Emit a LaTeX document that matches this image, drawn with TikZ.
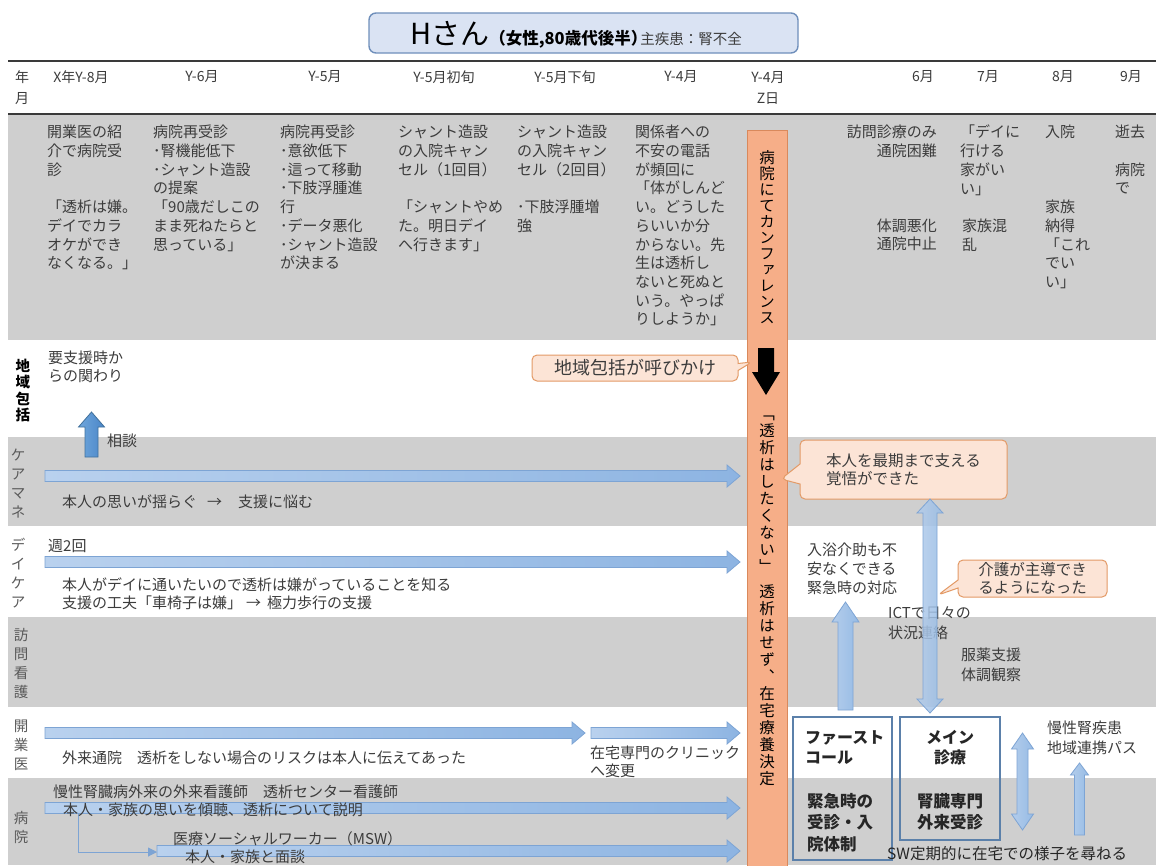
\documentclass[tikz,border=0pt]{standalone}
\usepackage{fontspec}
\setmainfont{Noto Sans CJK JP}
\newfontfamily\vfont{Noto Sans CJK JP}[RawFeature=+vert]
\usetikzlibrary{shapes.callouts,arrows.meta}
\definecolor{bandgray}{HTML}{CFCFCF}
\definecolor{tgray}{HTML}{3C3C3C}
\definecolor{lgray}{HTML}{5A5A5A}
\definecolor{hdrline}{HTML}{3A3A3A}
\definecolor{titlefill}{HTML}{DAE3F3}
\definecolor{titledraw}{HTML}{6F8FBB}
\definecolor{barL}{HTML}{B9D1EE}
\definecolor{barR}{HTML}{8DB4E2}
\definecolor{barD}{HTML}{7DA4D4}
\definecolor{vbL}{HTML}{B4CDEB}
\definecolor{vbR}{HTML}{96BBE5}
\definecolor{upL}{HTML}{6FA6DC}
\definecolor{upR}{HTML}{4A86C8}
\definecolor{upD}{HTML}{41719C}
\definecolor{orangefill}{HTML}{F6AE88}
\definecolor{orangedraw}{HTML}{D9895C}
\definecolor{callfill}{HTML}{FCE4D6}
\definecolor{calldraw}{HTML}{E39A66}
\definecolor{boxdraw}{HTML}{5B80AA}
\newcommand\fA{\fontsize{15}{18.7}\selectfont}
\newcommand\harr[4][]{\path[barst,#1] (#2,#4-5.5) -- (#3-13,#4-5.5) -- (#3-13,#4-11) -- (#3,#4) -- (#3-13,#4+11) -- (#3-13,#4+5.5) -- (#2,#4+5.5) -- cycle;}
\newcommand\uarr[7][]{\path[vbarst,#1] (#2-#5,#3) -- (#2-#5,#4+#7) -- (#2-#6,#4+#7) -- (#2,#4) -- (#2+#6,#4+#7) -- (#2+#5,#4+#7) -- (#2+#5,#3) -- cycle;}
\newcommand\darr[6]{\path[vbarst] (#1-#4,#2+#6) -- (#1-#5,#2+#6) -- (#1,#2) -- (#1+#5,#2+#6) -- (#1+#4,#2+#6) -- (#1+#4,#3-#6) -- (#1+#5,#3-#6) -- (#1,#3) -- (#1-#5,#3-#6) -- (#1-#4,#3-#6) -- cycle;}
\begin{document}
\begin{tikzpicture}[x=1pt,y=-1pt,
  barst/.style={draw=barD, line width=0.8pt, left color=barL, right color=barR},
  vbarst/.style={draw=barD, line width=0.8pt, left color=vbL, right color=vbR},
  upst/.style={draw=upD, left color=upL, right color=upR},
  tx/.style={anchor=north west, align=left, inner sep=0pt, font=\fA, text=tgray},
  lab/.style={anchor=north, align=center, inner sep=0pt, font=\fontsize{14.5}{19}\selectfont, text=lgray},
  hd/.style={inner sep=0pt, font=\fontsize{14}{21}\selectfont, text=tgray, align=center},
  cbox/.style={rectangle callout, draw=calldraw, fill=callfill, line width=1pt, rounded corners=5pt, inner sep=0pt, text=tgray, align=left},
  fbx/.style={draw=boxdraw, line width=1.6pt, inner sep=0pt},
  bt/.style={tx, text=black!85, font=\bfseries\fontsize{16}{20}\selectfont},
  vtx/.style={anchor=north, align=center, inner sep=0pt, text=black}]
\useasboundingbox (0,0) rectangle (1156,865);
\fill[white] (0,0) rectangle (1156,865);
% text partly covered by the hospital band
\node[tx, font=\fontsize{15}{18}\selectfont] (clinic) at (590,746) {在宅専門のクリニック\\へ変更};
% bands
\fill[bandgray] (8,115) rectangle (1156,340);
\fill[bandgray] (8,437) rectangle (1156,526);
\fill[bandgray] (8,617) rectangle (1156,707);
\fill[bandgray] (8,778) rectangle (1156,865);
% header lines
\draw[hdrline, line width=2.6pt] (8,61) -- (1156,61);
\draw[hdrline, line width=2pt] (8,113.5) -- (1156,113.5);
% title
\node[draw=titledraw, fill=titlefill, line width=1.4pt, rounded corners=7pt, minimum width=429, minimum height=40, inner sep=0pt] (title) at (583.5,33) {};
\node[inner sep=0pt, anchor=base] (titletext) at (576,44.5) {{\fontsize{29}{29}\selectfont Hさん}{\fontsize{16.5}{16.5}\selectfont\bfseries （女性,80歳代後半）}\hspace{-7pt}{\fontsize{14.5}{14.5}\selectfont\color{tgray}主疾患：腎不全}};
% header row
\node[hd] (hnen) at (22,88) {年\\月};
\node[hd] (h1) at (81,77) {X年Y-8月};
\node[hd] (h2) at (202,77) {Y-6月};
\node[hd] (h3) at (325,77) {Y-5月};
\node[hd] (h4) at (444,77) {Y-5月初旬};
\node[hd] (h5) at (565,77) {Y-5月下旬};
\node[hd] (h6) at (681,77) {Y-4月};
\node[hd] (h7) at (768,88) {Y-4月\\Z日};
\node[hd] (h8) at (923,77) {6月};
\node[hd] (h9) at (988,77) {7月};
\node[hd] (h10) at (1063,77) {8月};
\node[hd] (h11) at (1131,77) {9月};
% gray band columns
\node[tx] (g1) at (47,125) {開業医の紹\\介で病院受\\診\\[18.7pt]「透析は嫌。\\デイでカラ\\オケができ\\なくなる。」};
\node[tx] (g2) at (153,125) {病院再受診\\･腎機能低下\\･シャント造設\\の提案\\「90歳だしこの\\まま死ねたらと\\思っている」};
\node[tx] (g3) at (280,125) {病院再受診\\･意欲低下\\･這って移動\\･下肢浮腫進\\行\\･データ悪化\\･シャント造設\\が決まる};
\node[tx] (g4) at (398,125) {シャント造設\\の入院キャン\\セル（1回目）\\[18.7pt]「シャントやめ\\た。明日デイ\\へ行きます」};
\node[tx] (g5) at (517,125) {シャント造設\\の入院キャン\\セル（2回目）\\[18.7pt]･下肢浮腫増\\強};
\node[tx] (g6) at (635,125) {関係者への\\不安の電話\\が頻回に\\「体がしんど\\い。どうした\\らいいか分\\からない。先\\生は透析し\\ないと死ぬと\\いう。やっぱ\\りしようか」};
\node[tx, anchor=north east, align=right] (r1) at (937,125) {訪問診療のみ\\通院困難};
\node[tx, anchor=north east, align=right] (r2) at (937,218.5) {体調悪化\\通院中止};
\node[tx] (r3) at (960,125) {「デイに\\行ける\\家がい\\い」};
\node[tx] (r4) at (962,218.5) {家族混\\乱};
\node[tx] (r5) at (1045,125) {入院};
\node[tx] (r6) at (1045,199.8) {家族\\納得\\「これ\\でい\\い」};
\node[tx] (r7) at (1115,125) {逝去};
\node[tx] (r8) at (1115,162.4) {病院\\で};
% row labels
\node[lab, text=black, font=\bfseries\fontsize{14.5}{16.3}\selectfont] (l1) at (23,359) {\vphantom{国}地\\域\\包\\括};
\node[lab] (l2) at (18,449) {\vphantom{国}ケ\\ア\\マ\\ネ};
\node[lab] (l3) at (18,538) {\vphantom{国}デ\\イ\\ケ\\ア};
\node[lab] (l4) at (21,628) {\vphantom{国}訪\\問\\看\\護};
\node[lab] (l5) at (21,720) {\vphantom{国}開\\業\\医};
\node[lab] (l6) at (21,811) {\vphantom{国}病\\院};
% orange bar
\node[draw=orangedraw, fill=orangefill, line width=0.8pt, minimum width=40, minimum height=740, inner sep=0pt] (obar) at (767,500) {};
\node[vtx, font=\vfont\fontsize{15.5}{16}\selectfont] (vt1) at (767,150) {\vphantom{国}病\\院\\に\\て\\カ\\ン\\フ\\ァ\\レ\\ン\\ス};
\node[vtx, font=\vfont\fontsize{15.5}{17}\selectfont] (vt2) at (767,407) {\vphantom{国}﹁\\透\\析\\は\\し\\た\\く\\な\\い\\﹂\\[8pt]透\\析\\は\\せ\\ず\\︑\\在\\宅\\療\\養\\決\\定};
\fill[black] (758,348) -- (774,348) -- (774,372) -- (780,372) -- (766,395) -- (752,372) -- (758,372) -- cycle;
% rows
\node[tx, font=\fontsize{15}{17.5}\selectfont] (t1) at (48,351) {要支援時か\\らの関わり};
\node[tx] (t2) at (107,434) {相談};
\uarr[upst]{91.5}{457}{412}{6.5}{13}{15}
\harr{45}{740}{476}
\node[tx] (t3) at (62,495) {本人の思いが揺らぐ\hspace{10pt}→\hspace{16pt}支援に悩む};
\node[tx] (t4) at (48,539) {週2回};
\harr{45}{740}{562}
\node[tx, font=\fontsize{15}{17.5}\selectfont] (t5) at (62,578) {本人がデイに通いたいので透析は嫌がっていることを知る\\支援の工夫「車椅子は嫌」\hspace{4pt}→\hspace{6pt}極力歩行の支援};
\harr{45}{585}{733}
\harr{591}{740}{733}
\node[tx] (t6) at (62,751) {外来通院　透析をしない場合のリスクは本人に伝えてあった};
\node[tx] (t7) at (53,785) {慢性腎臓病外来の外来看護師　透析センター看護師};
\harr{45}{740}{808}
\harr{157}{740}{851}
\coordinate (m1) at (78,813.5);
\coordinate (m3) at (157,852);
\draw[barD, line width=1pt, -{Triangle[length=9pt,width=9pt]}] (m1) |- (m3);
\node[tx] (t8) at (63,803) {本人・家族の思いを傾聴、透析について説明};
\node[tx] (t9) at (173,831) {医療ソーシャルワーカー（MSW）};
\node[tx] (t10) at (185,850) {本人・家族と面談};
% right side texts
\node[tx, font=\fontsize{15}{19}\selectfont] (t11) at (807,543) {入浴介助も不\\安なくできる\\緊急時の対応};
\node[tx, font=\fontsize{15}{20}\selectfont] (t12) at (888,606) {ICTで日々の\\状況連絡};
\node[tx, font=\fontsize{15}{20}\selectfont] (t13) at (961,648) {服薬支援\\体調観察};
\node[tx, font=\fontsize{15}{20}\selectfont] (t14) at (1047,721) {慢性腎疾患\\地域連携パス};
% callouts
\node[cbox, font=\fontsize{18}{20}\selectfont, minimum width=206, minimum height=26, callout absolute pointer={(752,362)}, callout pointer width=7pt] (c1) at (635,368) {地域包括が呼びかけ};
\node[cbox, font=\fontsize{15.5}{18}\selectfont, minimum width=207, minimum height=59, callout absolute pointer={(781,479)}, callout pointer width=20pt] (c2) at (903.5,469.5) {本人を最期まで支える\\覚悟ができた};
\node[cbox, align=center, font=\fontsize{15.5}{18}\selectfont, minimum width=149, minimum height=37, callout absolute pointer={(938,595)}, callout pointer width=8pt] (c3) at (1032.5,578.5) {介護が主導でき\\るようになった};
% vertical arrows
\uarr{845.5}{710}{602}{7.5}{13.5}{20}
\begin{scope}[fill opacity=0.85]
\darr{930}{499}{713}{7}{13}{14}
\end{scope}
\darr{1022.5}{733}{830}{5.5}{11}{16}
\uarr{1079.5}{835}{763}{5}{9}{12}
% boxes
\node[fbx, minimum width=99, minimum height=143] (fc) at (842.5,788.5) {};
\node[fbx, minimum width=100, minimum height=123] (mc) at (950,778.5) {};
\node[bt] (fc1) at (805,730) {ファースト\\コール};
\node[bt, font=\bfseries\fontsize{16.5}{21.5}\selectfont] (fc2) at (807,793) {緊急時の\\受診・入\\院体制};
\node[bt, anchor=north, align=center] (mc1) at (950,730) {メイン\\診療};
\node[bt, anchor=north, align=center, font=\bfseries\fontsize{16.5}{21}\selectfont] (mc2) at (950,793) {腎臓専門\\外来受診};
\node[tx, text=black!85, font=\fontsize{15.5}{18}\selectfont] (t15) at (887,846) {SW定期的に在宅での様子を尋ねる};
\end{tikzpicture}
\end{document}
